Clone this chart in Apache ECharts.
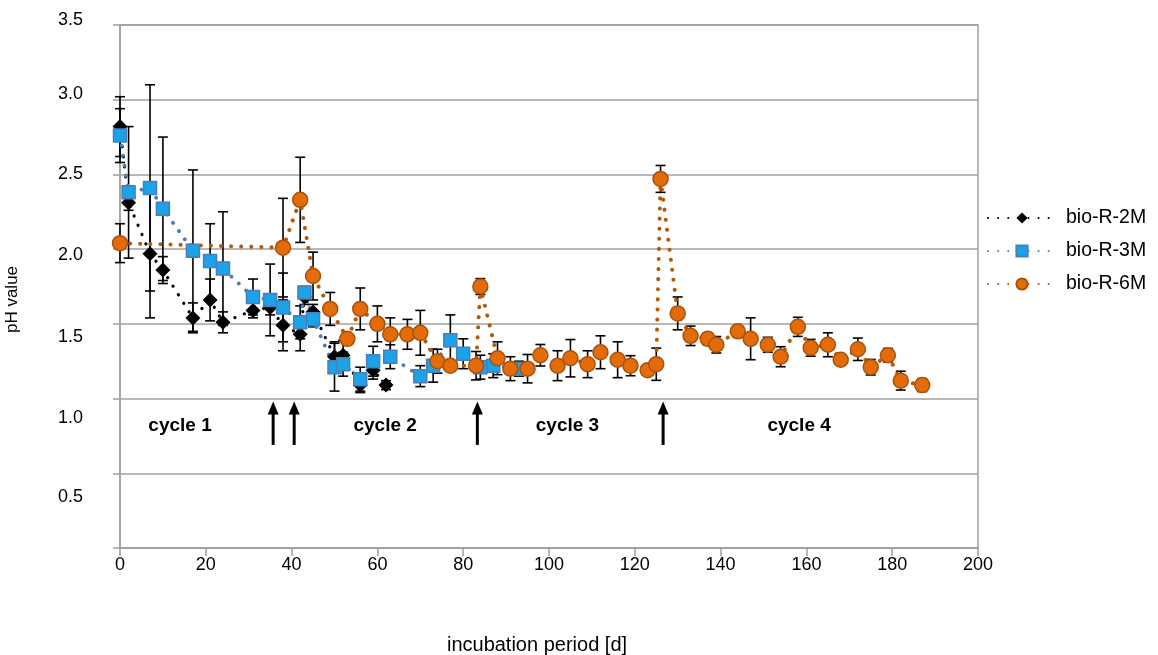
<!DOCTYPE html>
<html>
<head>
<meta charset="utf-8">
<script src="https://cdn.jsdelivr.net/npm/echarts@6/dist/echarts.min.js"></script>
<style>
html,body{margin:0;padding:0;background:#fff;}
#chart{width:1158px;height:655px;}
</style>
</head>
<body>
<div id="chart"></div>
<script>
// ---- data ----
const days2M = [0,2,7,10,17,21,24,31,35,38,42,43,45,50,52,56,59,62];
const ph2M   = [2.82,2.31,1.97,1.86,1.54,1.66,1.51,1.59,1.61,1.49,1.43,1.68,1.58,1.28,1.29,1.09,1.19,1.09];
const err2M  = [0.20,0.05,0.43,0.09,0.10,0.14,0.07,0.05,0.05,0.17,0.11,0.05,0.05,0.10,0.10,0.05,0.06,0.03];

const days3M = [0,2,7,10,17,21,24,31,35,38,42,43,45,50,52,56,59,63,70,73,77,80,84,87,93];
const ph3M   = [2.76,2.38,2.41,2.27,1.99,1.92,1.87,1.68,1.66,1.61,1.51,1.71,1.53,1.21,1.23,1.13,1.25,1.28,1.15,1.22,1.39,1.30,1.21,1.22,1.20];
const err3M  = [0.18,0.44,0.69,0.48,0.54,0.25,0.38,0.12,0.24,0.23,0.11,0.04,0.05,0.16,0.08,0.08,0.10,0.08,0.07,0.11,0.17,0.10,0.08,0.08,0.05];

const days6M = [0,38,42,45,49,53,56,60,63,67,70,74,77,83,84,88,91,95,98,102,105,109,112,116,119,123,125,126,130,133,137,139,144,147,151,154,158,161,165,168,172,175,179,182,187];
const ph6M   = [2.04,2.01,2.33,1.82,1.60,1.40,1.60,1.50,1.43,1.43,1.44,1.25,1.22,1.22,1.75,1.27,1.20,1.20,1.29,1.22,1.27,1.23,1.31,1.26,1.22,1.19,1.23,2.47,1.57,1.42,1.40,1.36,1.45,1.40,1.36,1.28,1.48,1.34,1.36,1.26,1.33,1.21,1.29,1.12,1.09];
const err6M  = [0.13,0.33,0.285,0.16,0.11,0.02,0.14,0.12,0.11,0.10,0.15,0.08,0.02,0.095,0.053,0.11,0.08,0.095,0.072,0.10,0.125,0.09,0.11,0.12,0.067,0.02,0.108,0.09,0.11,0.065,0.04,0.055,0.02,0.14,0.05,0.067,0.064,0.056,0.08,0.037,0.075,0.052,0.045,0.063,0.043];

const seriesNames = ['bio-R-2M','bio-R-3M','bio-R-6M'];
const arrowDays = [35.7, 40.6, 83.3, 126.6];
const cycleLabels = ['cycle 1','cycle 2','cycle 3','cycle 4'];
const cycleDays = [14.0, 61.8, 104.3, 158.3];
const yTickLabels = ['', '0.5', '1.0', '1.5', '2.0', '2.5', '3.0', '3.5'];

// ---- chart ----
const FONT = "'Liberation Sans', Arial, sans-serif";
const chart = echarts.init(document.getElementById('chart'), null, {renderer:'canvas'});

function pairs(d, v){ return d.map((x,i)=>[x, v[i]]); }
function triples(d, v, e){ return d.map((x,i)=>[x, v[i], e[i]]); }

function errRender(params, api){
  const x = api.value(0), y = api.value(1), e = api.value(2);
  const t = api.coord([x, y + e]);
  const b = api.coord([x, y - e]);
  const hw = 5;
  const st = {stroke:'#000', lineWidth:1.6};
  return {type:'group', children:[
    {type:'line', shape:{x1:t[0], y1:t[1], x2:b[0], y2:b[1]}, style:st},
    {type:'line', shape:{x1:t[0]-hw, y1:t[1], x2:t[0]+hw, y2:t[1]}, style:st},
    {type:'line', shape:{x1:b[0]-hw, y1:b[1], x2:b[0]+hw, y2:b[1]}, style:st}
  ]};
}

function arrowRender(params, api){
  const d = api.value(0);
  const tail = api.coord([d, 0.69]);
  const tip = api.coord([d, 0.98]);
  const headH = 13, headW = 5.5;
  return {type:'group', children:[
    {type:'line', shape:{x1:tail[0], y1:tail[1], x2:tip[0], y2:tip[1]+headH-2}, style:{stroke:'#000', lineWidth:3}},
    {type:'polygon', shape:{points:[[tip[0], tip[1]],[tip[0]-headW, tip[1]+headH],[tip[0]+headW, tip[1]+headH]]}, style:{fill:'#000'}}
  ]};
}

function cycleRender(params, api){
  const i = params.dataIndex;
  const p = api.coord([api.value(0), 0.82]);
  return {type:'text', x:p[0], y:p[1], style:{text:cycleLabels[i], font:"bold 19px " + FONT, fill:'#000', align:'center', verticalAlign:'middle'}};
}

const dotted = (color, w) => ({color:color, width:w, type:[0.1, 10], cap:'round'});

// label offsets to follow the reference's tick label placement
const yOff = {'0.5':24,'1.0':19,'1.5':13,'2.0':6,'2.5':0,'3.0':-6,'3.5':-5};
const rich = {};
Object.keys(yOff).forEach((k, i) => {
  const d = yOff[k];
  rich['t' + i] = {fontSize:18, fontFamily:FONT, color:'#000',
    padding: d >= 0 ? [2*d, 0, 0, 0] : [0, 0, -2*d, 0]};
});
const yKeys = Object.keys(yOff);

const option = {
  animation:false,
  textStyle:{fontFamily:FONT},
  grid:{left:120, right:180, top:25, bottom:107, show:true, borderColor:'#a0a0a0', borderWidth:1.5, containLabel:false, outerBoundsMode:'none'},
  legend:{
    orient:'vertical', left:982, top:203,
    data:seriesNames,
    itemWidth:68, itemHeight:14, itemGap:13,
    textStyle:{fontSize:19.5, fontFamily:FONT, color:'#000', padding:[0,0,0,5]}
  },
  xAxis:{
    type:'value', min:0, max:200, interval:20,
    axisLine:{show:true, onZero:false, lineStyle:{color:'#a0a0a0', width:1.5}},
    axisTick:{show:true, inside:false, length:8, lineStyle:{color:'#a0a0a0', width:1.5}},
    axisLabel:{fontSize:18, fontFamily:FONT, color:'#000', margin:8},
    splitLine:{show:false},
    name:'incubation period [d]', nameLocation:'middle', nameGap:87,
    nameTextStyle:{fontSize:20, fontFamily:FONT, color:'#000', padding:[0,24,0,0]}
  },
  yAxis:{
    type:'value', min:0, max:3.5, interval:0.5,
    axisLine:{show:true, onZero:false, lineStyle:{color:'#a0a0a0', width:1.5}},
    axisTick:{show:true, inside:false, length:7, lineStyle:{color:'#a0a0a0', width:1.5}},
    axisLabel:{
      margin:37, color:'#000', fontSize:18, fontFamily:FONT,
      formatter:function(v){
        const idx = Math.round(v / 0.5);
        const s = yTickLabels[idx];
        if(!s) return '';
        const k = yKeys.indexOf(s);
        return '{t' + k + '|' + s + '}';
      },
      rich:rich
    },
    splitLine:{show:true, lineStyle:{color:'#a0a0a0', width:1.5}},
    name:'pH value', nameLocation:'middle', nameGap:99, nameRotate:90,
    nameTextStyle:{fontSize:17, fontFamily:FONT, color:'#000', padding:[0,26,0,0]}
  },
  series:[
    {name:'err-2M', type:'custom', renderItem:errRender, data:triples(days2M, ph2M, err2M), encode:{x:0,y:1}, z:2, silent:true},
    {name:'err-3M', type:'custom', renderItem:errRender, data:triples(days3M, ph3M, err3M), encode:{x:0,y:1}, z:2, silent:true},
    {name:'err-6M', type:'custom', renderItem:errRender, data:triples(days6M, ph6M, err6M), encode:{x:0,y:1}, z:2, silent:true},
    {name:seriesNames[0], type:'line', data:pairs(days2M, ph2M), z:3,
      symbol:'diamond', symbolSize:15, showSymbol:true, showAllSymbol:true,
      itemStyle:{color:'#000', borderColor:'#000', borderWidth:0},
      lineStyle:dotted('#000', 3.2)},
    {name:seriesNames[1], type:'line', data:pairs(days3M, ph3M), z:3,
      symbol:'rect', symbolSize:13, showSymbol:true, showAllSymbol:true,
      itemStyle:{color:'#1aa3e8', borderColor:'#4a7ebb', borderWidth:1.5},
      lineStyle:dotted('#4a7ebb', 3.8)},
    {name:seriesNames[2], type:'line', data:pairs(days6M, ph6M), z:3,
      symbol:'circle', symbolSize:15, showSymbol:true, showAllSymbol:true,
      itemStyle:{color:'#e36c09', borderColor:'#a8520c', borderWidth:1.5},
      lineStyle:dotted('#b35a0a', 4)},
    {name:'arrows', type:'custom', renderItem:arrowRender, data:arrowDays.map(d=>[d]), encode:{x:0}, z:4, silent:true},
    {name:'cycles', type:'custom', renderItem:cycleRender, data:cycleDays.map(d=>[d]), encode:{x:0}, z:4, silent:true}
  ]
};
chart.setOption(option);
</script>
</body>
</html>
